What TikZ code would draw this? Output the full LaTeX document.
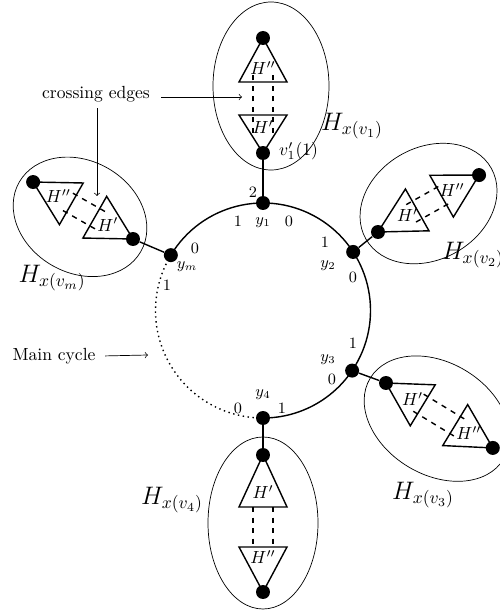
\documentclass[tikz,border=0pt]{standalone}
\usetikzlibrary{calc}
\begin{document}
\begin{tikzpicture}[x=0.02cm, y=0.02cm,
  dot/.style={circle, fill=black, inner sep=0pt, minimum size=0.28cm},
  cyc/.style={thick},
  edge/.style={thick},
  tri/.style={thick, line join=miter},
  crossedge/.style={thick, dashed},
  bag/.style={thin},
  port/.style={font=\small, inner sep=1pt},
  baglabel/.style={font=\Large},
  arr/.style={->}]
  \useasboundingbox (0,0) rectangle (500,613);

  % --- Main cycle ---
  \coordinate (C) at (263,302.5);
  \node[dot] (y1) at ([shift={(90:107.5)}]C) {};
  \node[dot] (y2) at ([shift={(33:107.5)}]C) {};
  \node[dot] (y3) at ([shift={(-34:107.5)}]C) {};
  \node[dot] (y4) at ([shift={(-90:107.5)}]C) {};
  \node[dot] (ym) at ([shift={(149:107.5)}]C) {};
  \draw[cyc] (ym.center) arc (149:-90:107.5);
  \draw[cyc, dotted] (ym.center) arc (149:270:107.5);

  \node[port] (ly1) at (263,390) {$y_1$};
  \node[port] (ly2) at (328,347) {$y_2$};
  \node[port] (ly3) at (328,253) {$y_3$};
  \node[port] (ly4) at (263,218) {$y_4$};
  \node[port] (lym) at (187,346) {$y_m$};

  % ports
  \node[port] (p1a) at (238,392) {1};
  \node[port] (p1b) at (289,392) {0};
  \node[port] (p1c) at (253,421) {2};
  \node[port] (p2a) at (325,371) {1};
  \node[port] (p2b) at (353,336) {0};
  \node[port] (p3a) at (353,270) {1};
  \node[port] (p3b) at (332,234) {0};
  \node[port] (p4a) at (238,205) {0};
  \node[port] (p4b) at (282,205) {1};
  \node[port] (pma) at (195,365) {0};
  \node[port] (pmb) at (167,328) {1};

  % --- Gadget of v_1 (top) ---
  \begin{scope}[shift={(263,460)}, rotate=90]
    \node[dot] (g1n) at (0,0) {};
    \node[dot] (g1f) at (115,0) {};
    \draw[tri] (g1n.center) -- (38,24) -- (38,-24) -- cycle;
    \draw[tri] (g1f.center) -- (71,24) -- (71,-24) -- cycle;
    \draw[crossedge] (20,10) -- (78,10);
    \draw[crossedge] (20,-10) -- (78,-10);
    \node (g1a) at (26,0) {$H'$};
    \node (g1b) at (85,0) {$H''$};
    \draw[bag] (67,-8) ellipse (84 and 58);
  \end{scope}

  % --- Gadget of v_2 ---
  \begin{scope}[shift={(378,381)}, rotate=29.4]
    \node[dot] (g2n) at (0,0) {};
    \node[dot] (g2f) at (116,0) {};
    \draw[tri] (g2n.center) -- (45,24) -- (45,-24) -- cycle;
    \draw[tri] (g2f.center) -- (73,24) -- (73,-24) -- cycle;
    \draw[crossedge] (38,10) -- (80,10);
    \draw[crossedge] (38,-10) -- (80,-10);
    \node (g2a) at (34,0) {$H'$};
    \node (g2b) at (85,0) {$H''$};
    \draw[bag] (58,0) ellipse (72 and 56);
  \end{scope}

  % --- Gadget of v_3 ---
  \begin{scope}[shift={(386,230)}, rotate=-31.3]
    \node[dot] (g3n) at (0,0) {};
    \node[dot] (g3f) at (125,0) {};
    \draw[tri] (g3n.center) -- (43,24) -- (43,-24) -- cycle;
    \draw[tri] (g3f.center) -- (81,24) -- (81,-24) -- cycle;
    \draw[crossedge] (38,10) -- (86,10);
    \draw[crossedge] (38,-10) -- (86,-10);
    \node (g3a) at (31,0) {$H'$};
    \node (g3b) at (97,0) {$H''$};
    \draw[bag] (62,-4) ellipse (78 and 56);
  \end{scope}

  % --- Gadget of v_4 (bottom) ---
  \begin{scope}[shift={(263,158)}, rotate=-90]
    \node[dot] (g4n) at (0,0) {};
    \node[dot] (g4f) at (137,0) {};
    \draw[tri] (g4n.center) -- (52,24) -- (52,-24) -- cycle;
    \draw[tri] (g4f.center) -- (92,24) -- (92,-24) -- cycle;
    \draw[crossedge] (52,10) -- (92,10);
    \draw[crossedge] (52,-10) -- (92,-10);
    \node (g4a) at (37,0) {$H'$};
    \node (g4b) at (102,0) {$H''$};
    \draw[bag] (68,0) ellipse (86 and 55);
  \end{scope}

  % --- Gadget of v_m ---
  \begin{scope}[shift={(133,374)}, rotate=150.3]
    \node[dot] (gmn) at (0,0) {};
    \node[dot] (gmf) at (115,0) {};
    \draw[tri] (gmn.center) -- (44,24) -- (44,-24) -- cycle;
    \draw[tri] (gmf.center) -- (71,24) -- (71,-24) -- cycle;
    \draw[crossedge] (38,10) -- (78,10);
    \draw[crossedge] (38,-10) -- (78,-10);
    \node (gma) at (29,0) {$H'$};
    \node (gmb) at (86,0) {$H''$};
    \draw[bag] (57,7) ellipse (70 and 56);
  \end{scope}

  % --- Edges cycle to gadgets ---
  \draw[edge] (y1) -- (g1n);
  \draw[edge] (y2) -- (g2n);
  \draw[edge] (y3) -- (g3n);
  \draw[edge] (y4) -- (g4n);
  \draw[edge] (ym) -- (gmn);

  % --- Labels ---
  \node[anchor=west, inner sep=1pt] (v1lab) at (277,462) {$v'_1(1)$};
  \node[baglabel] (hx1) at (352,487) {$H_{x(v_1)}$};
  \node[baglabel, anchor=west] (hx2) at (436,358) {$H_{x(v_2)}$};
  \node[baglabel] (hx3) at (423,118) {$H_{x(v_3)}$};
  \node[baglabel] (hx4) at (172,113) {$H_{x(v_4)}$};
  \node[baglabel] (hxm) at (52,335) {$H_{x(v_m)}$};

  \node (cross) at (96,519) {crossing edges};
  \coordinate (crossH) at (242,516);
  \coordinate (crossV) at (97,417);
  \draw[arr, shorten <=3pt] (cross.east) ++(0,-3) -- (crossH);
  \draw[arr] (cross.south -| crossV) -- (crossV);

  \node (maincyc) at (54,257) {Main cycle};
  \coordinate (mcEnd) at (148,258);
  \draw[arr, shorten <=2pt] (maincyc.east) -- (mcEnd);
\end{tikzpicture}
\end{document}
